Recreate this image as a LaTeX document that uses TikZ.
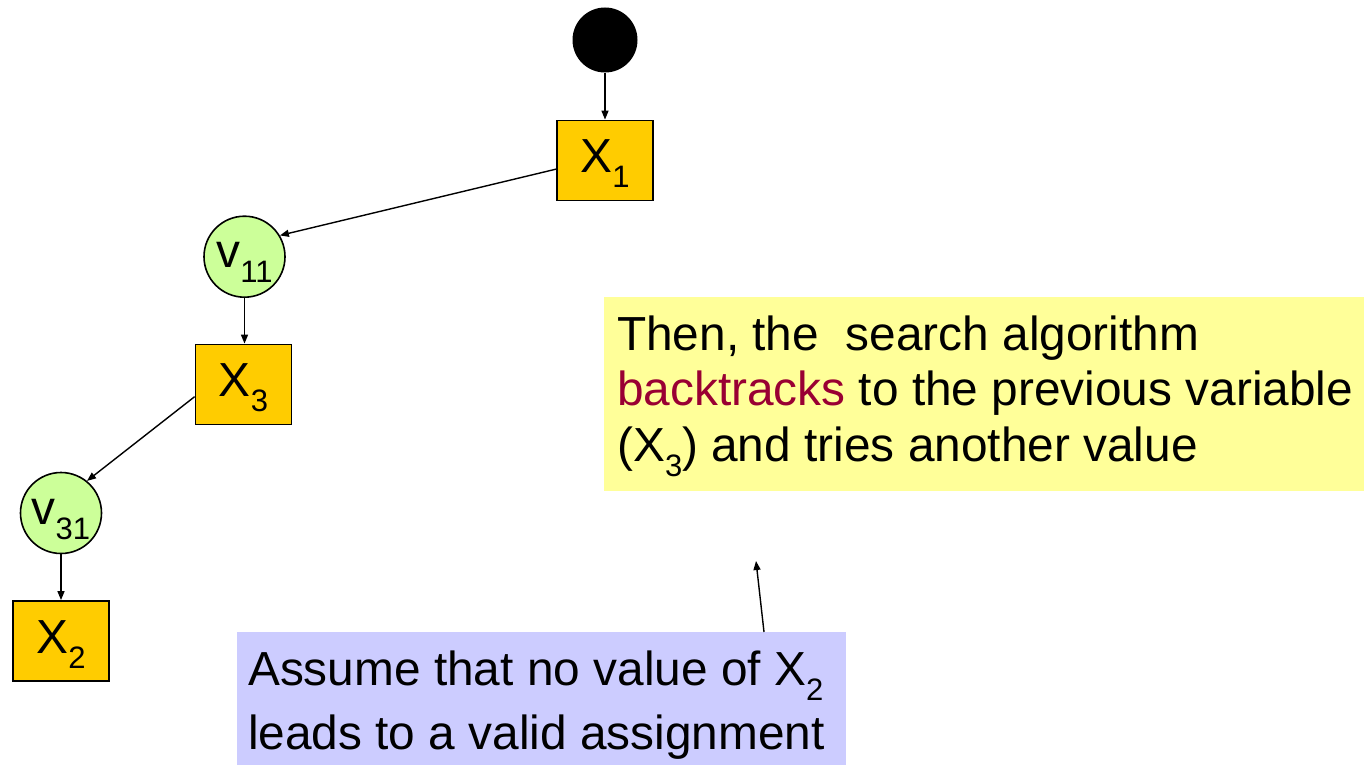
\documentclass[tikz,border=0pt]{standalone}
\usepackage{fontspec}
\setmainfont{Liberation Sans}
\usetikzlibrary{arrows.meta}

\definecolor{varfill}{HTML}{FFCC00}
\definecolor{valfill}{HTML}{CCFF99}
\definecolor{notey}{HTML}{FFFF99}
\definecolor{noteb}{HTML}{CCCCFF}
\definecolor{backred}{HTML}{990033}

% lowered, smaller index (X_1, v_11, ...)
\newcommand\lowidx[1]{\raisebox{-15pt}{\fontsize{31pt}{32pt}\selectfont #1}}

\begin{document}
\begin{tikzpicture}[x=1pt,y=-1pt,
  bigfont/.style={font=\fontsize{47.8pt}{52pt}\selectfont},
  var/.style={draw=black, line width=1.8pt, fill=varfill, minimum width=96pt,
    minimum height=80pt, inner sep=0pt, text height=39pt, text depth=15pt, bigfont},
  val/.style={circle, draw=black, line width=1.6pt, fill=valfill, minimum size=81pt,
    inner sep=0pt, text height=37pt, text depth=15pt, bigfont},
  arr/.style={-{Triangle[length=9pt,width=7pt]}, line width=1.4pt},
  notebox/.style={inner sep=0pt, outer sep=0pt},
  noteline/.style={anchor=base west, inner sep=0pt, bigfont}
]
\useasboundingbox (0,0) rectangle (1364,765);

% search tree
\node[circle, fill=black, minimum size=65pt, inner sep=0pt] (root) at (605,40) {};
\node[var] (X1) at (605,160.5) {X\lowidx{1}};
\node[val] (v11) at (244.5,256.7) {v\lowidx{11}};
\node[var] (X3) at (243.5,384.5) {X\lowidx{3}};
\node[val] (v31) at (61,513) {v\lowidx{31}};
\node[var] (X2) at (61,641) {X\lowidx{2}};

\draw[arr] (root) -- (X1);
\draw[arr] (X1.190) -- (v11.31);
\draw[arr] (v11.south) -- (v11.south |- X3.north);
\draw[arr] (X3.194) -- (v31.51);
\draw[arr] (v31.south) -- (v31.south |- X2.north);

% explanation notes
\node[notebox, fill=notey, minimum width=760pt, minimum height=194pt] (ybox) at (984,394) {};
\node[noteline] (y1) at ([xshift=13pt,yshift=-53pt]ybox.north west) {Then, the\ \ search algorithm};
\node[noteline] (y2) at ([xshift=13pt,yshift=-108pt]ybox.north west) {\textcolor{backred}{backtracks} to the previous variable};
\node[noteline] (y3) at ([xshift=13pt,yshift=-164pt]ybox.north west) {(X\lowidx{3}) and tries another value};

\node[notebox, fill=noteb, minimum width=609pt, minimum height=133pt] (bbox) at (541.5,698.5) {};
\node[noteline] (b1) at ([xshift=11pt,yshift=-53pt]bbox.north west) {Assume that no value of X\lowidx{2}};
\node[noteline] (b2) at ([xshift=11pt,yshift=-117pt]bbox.north west) {leads to a valid assignment};

\coordinate (tip) at (756,561);
\draw[arr] ([xshift=222.5pt]bbox.north) -- (tip);
\end{tikzpicture}
\end{document}
